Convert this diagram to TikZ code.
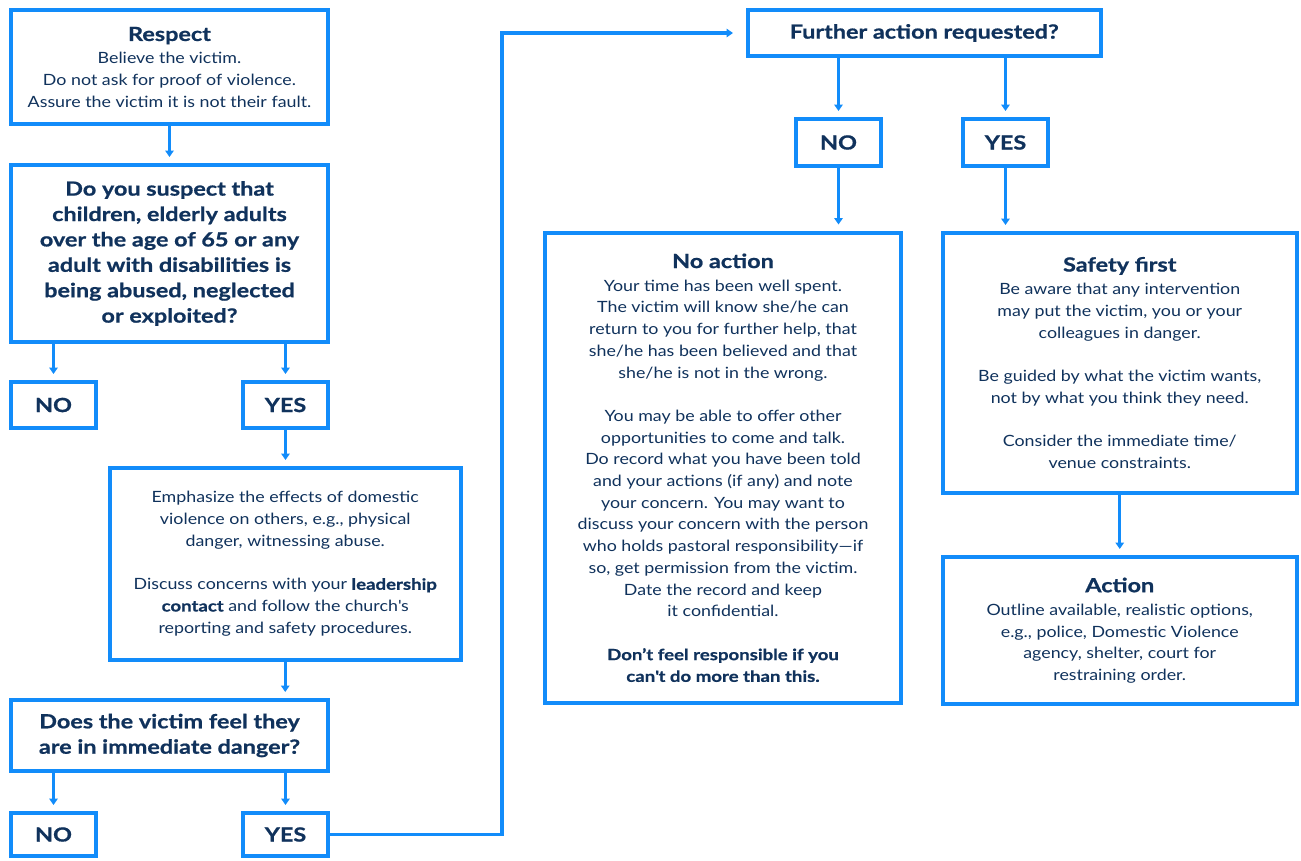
\documentclass[tikz,border=0pt]{standalone}
\usepackage{fontspec}
\setmainfont{Lato}[FakeStretch=1.15,BoldFeatures={FakeStretch=1.2,FakeBold=0.8}]
\usetikzlibrary{arrows.meta}
\definecolor{bblue}{RGB}{18,140,250}
\definecolor{navy}{RGB}{16,50,92}
\newcommand\myBody{\fontsize{15.5}{21.7}\selectfont}
\newcommand\myHead{\fontsize{19.5}{25.4}\selectfont\bfseries}
\tikzset{
  box/.style={draw=bblue,line width=4pt,inner sep=0pt,text=navy,align=center,font=\myBody,fill=white},
  hbox/.style={box,font=\myHead},
  arr/.style={draw=bblue,line width=3.2pt,-{Triangle[width=8.5pt,length=6.5pt]},shorten >=6pt},
}
\begin{document}
\begin{tikzpicture}[x=1pt,y=-1pt]
\useasboundingbox (0,0) rectangle (1301,860);
% left column
\node[box,minimum width=317,minimum height=114] (respect) at (169.5,67)
  {{\myHead Respect}\\[1pt] Believe the victim.\\ Do not ask for proof of violence.\\ Assure the victim it is not their fault.};
\node[hbox,minimum width=317,minimum height=177] (suspect) at (169.5,253.5)
  {Do you suspect that\\ children, elderly adults\\ over the age of 65 or any\\ adult with disabilities is\\ being abused, neglected\\ or exploited?};
\node[hbox,minimum width=85,minimum height=46] (no1) at (53.5,405) {NO};
\node[hbox,minimum width=85,minimum height=46] (yes1) at (285.5,405) {YES};
\node[box,minimum width=351.5,minimum height=191.5] (emph) at (285.25,563.75)
  {Emphasize the effects of domestic\\ violence on others, e.g., physical\\ danger, witnessing abuse.\\[21.7pt]
   Discuss concerns with your \textbf{leadership}\\ \textbf{contact} and follow the church\textquotesingle s\\ reporting and safety procedures.};
\node[hbox,minimum width=317,minimum height=71] (danger) at (169.5,735.5)
  {Does the victim feel they\\ are in immediate danger?};
\node[hbox,minimum width=85,minimum height=43] (no2) at (53.5,834.5) {NO};
\node[hbox,minimum width=85,minimum height=43] (yes2) at (285.5,834.5) {YES};
% right part
\node[hbox,minimum width=352.5,minimum height=46] (further) at (924.25,33) {Further action requested?};
\node[hbox,minimum width=85,minimum height=47] (no3) at (838.5,142.5) {NO};
\node[hbox,minimum width=85,minimum height=47] (yes3) at (1005.5,142.5) {YES};
\node[box,minimum width=356,minimum height=470.5] (noaction) at (723,467.75)
  {{\myHead No action}\\[1.5pt] Your time has been well spent.\\ The victim will know she/he can\\ return to you for further help, that\\ she/he has been believed and that\\ she/he is not in the wrong.\\[21.7pt]
   You may be able to offer other\\ opportunities to come and talk.\\ Do record what you have been told\\ and your actions (if any) and note\\ your concern. You may want to\\ discuss your concern with the person\\ who holds pastoral responsibility—if\\ so, get permission from the victim.\\ Date the record and keep\\ it confidential.\\[21.7pt]
   \textbf{Don’t feel responsible if you}\\ \textbf{can\textquotesingle t do more than this.}};
\node[box,minimum width=354.5,minimum height=259.5] (safety) at (1119.75,362.75)
  {{\myHead Safety first}\\[1.5pt] Be aware that any intervention\\ may put the victim, you or your\\ colleagues in danger.\\[21.7pt]
   Be guided by what the victim wants,\\ not by what you think they need.\\[21.7pt]
   Consider the immediate time/\\ venue constraints.};
\node[box,minimum width=354.5,minimum height=147] (action) at (1119.75,630.5)
  {{\myHead Action}\\[1.5pt] Outline available, realistic options,\\ e.g., police, Domestic Violence\\ agency, shelter, court for\\ restraining order.};
\coordinate (bend) at (502,33);
% connectors
\draw[arr] (respect.south) -- (suspect.north);
\draw[arr] (suspect.south -| no1.north) -- (no1.north);
\draw[arr] (suspect.south -| yes1.north) -- (yes1.north);
\draw[arr] (yes1.south) -- (yes1.south |- emph.north);
\draw[arr] (emph.south) -- (emph.south |- danger.north);
\draw[arr] (danger.south -| no2.north) -- (no2.north);
\draw[arr] (danger.south -| yes2.north) -- (yes2.north);
\draw[arr,shorten >=13pt] (yes2.east) -| (bend) -- (further.west);
\draw[arr] (further.south -| no3.north) -- (no3.north);
\draw[arr] (further.south -| yes3.north) -- (yes3.north);
\draw[arr] (no3.south) -- (no3.south |- noaction.north);
\draw[arr] (yes3.south) -- (yes3.south |- safety.north);
\draw[arr] (safety.south) -- (safety.south |- action.north);
\end{tikzpicture}
\end{document}
